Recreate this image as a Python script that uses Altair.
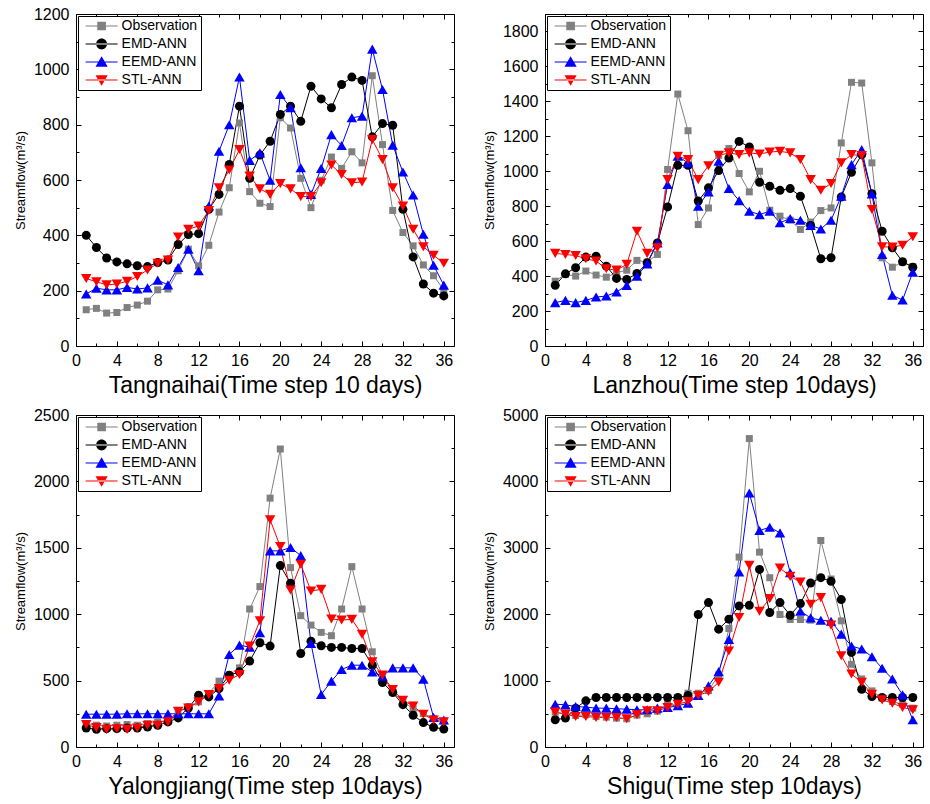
import altair as alt
import pandas as pd

steps = list(range(1, 37))
series_names = ["Observation", "EMD-ANN", "EEMD-ANN", "STL-ANN"]
series_colors = ["#808080", "#000000", "#0000ff", "#ff0000"]
series_shapes = ["square", "circle", "triangle-up", "triangle-down"]
series_sizes = [49, 81, 110, 110]
legend_paths = [
    "M-1,-0.035H1V0.035H-1ZM-0.27,-0.27H0.27V0.27H-0.27Z",
    "M-1,-0.035H1V0.035H-1ZM-0.34,0A0.34,0.34,0,1,0,0.34,0A0.34,0.34,0,1,0,-0.34,0Z",
    "M-1,-0.035H1V0.035H-1ZM0,-0.36L0.38,0.3H-0.38Z",
    "M-1,-0.035H1V0.035H-1ZM0,0.36L0.38,-0.3H-0.38Z",
]

# Tangnaihai
tangnaihai_obs = [131, 136, 119, 121, 139, 148, 162, 203, 206, 272, 350, 290, 364, 484, 572, 806, 558, 516,
                  504, 825, 788, 606, 500, 599, 683, 642, 702, 662, 977, 728, 490, 410, 362, 293, 254, 203]
tangnaihai_emd = [400, 356, 318, 304, 297, 290, 287, 302, 311, 367, 403, 406, 494, 548, 656, 867, 606, 690,
                  740, 837, 867, 812, 939, 893, 861, 945, 972, 960, 756, 804, 798, 494, 322, 224, 191, 181]
tangnaihai_eemd = [188, 209, 203, 203, 212, 206, 210, 238, 221, 284, 350, 272, 506, 704, 800, 972, 671, 698,
                   599, 909, 861, 644, 548, 642, 764, 725, 825, 831, 1073, 927, 726, 629, 546, 404, 292, 220]
tangnaihai_stl = [244, 232, 221, 224, 234, 251, 275, 299, 311, 394, 422, 434, 490, 572, 636, 710, 614, 568,
                  548, 587, 568, 540, 540, 590, 654, 620, 590, 593, 746, 674, 572, 506, 422, 359, 328, 299]

# Lanzhou
lanzhou_obs = [371, 410, 400, 429, 406, 394, 419, 434, 490, 480, 524, 1010, 1442, 1232, 695, 790, 1091, 1130,
               987, 882, 1000, 777, 743, 720, 667, 709, 775, 790, 1162, 1509, 1505, 1048, 505, 451, 480, 455]
lanzhou_emd = [347, 413, 448, 509, 514, 457, 387, 381, 415, 476, 590, 796, 1034, 1034, 830, 905, 1004, 1076,
               1171, 1139, 937, 914, 891, 901, 857, 690, 499, 505, 853, 994, 1095, 872, 657, 562, 482, 451]
lanzhou_eemd = [248, 261, 248, 261, 280, 286, 309, 347, 400, 470, 590, 924, 1086, 1048, 800, 882, 1057, 901,
                832, 771, 752, 771, 705, 730, 720, 690, 670, 720, 857, 1038, 1124, 870, 524, 290, 263, 423]
lanzhou_stl = [530, 524, 518, 499, 486, 442, 434, 467, 657, 530, 562, 952, 1086, 1067, 952, 1032, 1091, 1105,
               1095, 1105, 1099, 1110, 1114, 1105, 1067, 952, 891, 930, 1048, 1095, 1090, 781, 568, 566, 577, 625]

# Yalongjiang
yalongjiang_obs = [176, 164, 158, 164, 169, 164, 176, 189, 196, 270, 302, 340, 403, 496, 541, 596, 1039, 1208,
                   1874, 2244, 1351, 989, 918, 863, 838, 1039, 1358, 1039, 717, 541, 415, 340, 289, 252, 214, 195]
yalongjiang_emd = [143, 133, 138, 138, 143, 143, 151, 164, 189, 219, 294, 390, 377, 440, 541, 566, 647, 785,
                   760, 1366, 1233, 704, 797, 762, 750, 750, 742, 742, 616, 486, 410, 319, 239, 184, 148, 135]
yalongjiang_eemd = [247, 247, 247, 247, 250, 250, 250, 250, 250, 250, 250, 250, 250, 385, 697, 767, 752, 860,
                    1477, 1477, 1502, 1441, 780, 395, 496, 584, 616, 616, 566, 533, 596, 596, 596, 511, 223, 203]
yalongjiang_stl = [169, 146, 133, 138, 133, 143, 164, 164, 189, 269, 294, 340, 395, 440, 503, 546, 760, 951,
                   1711, 1509, 1182, 1376, 1175, 1187, 964, 956, 961, 848, 642, 541, 433, 352, 309, 247, 203, 190]

# Shigu
shigu_obs = [525, 495, 475, 485, 460, 450, 435, 425, 480, 500, 540, 660, 620, 810, 810, 850, 1085, 1785,
             2860, 4645, 2935, 2550, 1995, 1920, 1920, 1910, 3110, 2530, 1900, 1245, 1025, 845, 735, 685, 645, 585]
shigu_emd = [410, 435, 585, 695, 745, 745, 745, 745, 745, 745, 745, 745, 745, 775, 1995, 2175, 1775, 1925,
             2125, 2135, 2675, 2025, 2175, 1985, 2160, 2470, 2550, 2495, 2220, 1425, 870, 760, 745, 745, 745, 745]
shigu_eemd = [645, 635, 610, 600, 585, 585, 575, 570, 560, 560, 585, 595, 620, 660, 775, 920, 1135, 1620,
              2635, 3825, 3260, 3310, 3225, 2625, 2045, 1945, 1910, 1895, 1700, 1520, 1475, 1360, 1185, 1025, 785, 410]
shigu_stl = [525, 495, 460, 460, 445, 445, 445, 425, 485, 545, 545, 595, 645, 685, 775, 835, 975, 1445,
             1950, 2735, 2045, 2235, 2695, 2570, 2485, 2150, 2250, 1835, 1375, 1100, 975, 795, 710, 660, 595, 560]

panel_titles = ["Tangnaihai(Time step 10 days)", "Lanzhou(Time step 10days)",
                "Yalongjiang(Time step 10days)", "Shigu(Time step 10days)"]
panel_ymax = [1200, 1900, 2500, 5000]
panel_ymajor = [200, 200, 500, 1000]
panel_data = [
    [tangnaihai_obs, tangnaihai_emd, tangnaihai_eemd, tangnaihai_stl],
    [lanzhou_obs, lanzhou_emd, lanzhou_eemd, lanzhou_stl],
    [yalongjiang_obs, yalongjiang_emd, yalongjiang_eemd, yalongjiang_stl],
    [shigu_obs, shigu_emd, shigu_eemd, shigu_stl],
]
# trailing no-break spaces move the rotated title slightly down, as in the original
y_title = "Streamflow(m³/s)" + "\u00a0" * 7
x_domain = [0, 37]
x_tick_values = list(range(0, 37, 2))

FONT = "Liberation Sans"
W, H = 378, 332


def make_panel(title, ymax, major, series_values):
    rows = []
    for name, size, vals in zip(series_names, series_sizes, series_values):
        for s, v in zip(steps, vals):
            rows.append({"step": s, "flow": v, "series": name, "msize": size})
    df = pd.DataFrame(rows)
    y_tick_values = list(range(0, ymax + 1, major // 2))
    xscale = alt.Scale(domain=x_domain, nice=False, zero=False)
    yscale = alt.Scale(domain=[0, ymax], nice=False)
    x_tick = alt.ExprRef(expr="datum.value % 4 === 0 ? -5 : -3")
    y_tick = alt.ExprRef(expr=f"datum.value % {major} === 0 ? -5 : -3")

    base = alt.Chart(df)
    empty = base.transform_filter("false")

    def color_enc(legend):
        return alt.Color("series:N", scale=alt.Scale(domain=series_names, range=series_colors), legend=legend)

    lines = base.mark_line(strokeWidth=1).encode(
        x=alt.X("step:Q", scale=xscale, axis=alt.Axis(
            orient="bottom", values=x_tick_values, format="d",
            labelExpr="datum.value % 4 === 0 ? datum.label : ''",
            tickSize=x_tick, labelPadding=11, title=title, titleFontSize=23,
            titlePadding=4, grid=False, labelFlush=False, labelOverlap=False)),
        y=alt.Y("flow:Q", scale=yscale, axis=alt.Axis(
            orient="left", values=y_tick_values, format="d",
            labelExpr=f"datum.value % {major} === 0 ? datum.label : ''",
            tickSize=y_tick, labelPadding=12, title=y_title, titleFontSize=13,
            titlePadding=6, grid=False, labelFlush=False, labelOverlap=False)),
        color=color_enc(None),
    )

    points = base.mark_point(filled=True, opacity=1).encode(
        x=alt.X("step:Q", axis=None),
        y=alt.Y("flow:Q", axis=None),
        color=color_enc(None),
        shape=alt.Shape("series:N", scale=alt.Scale(domain=series_names, range=series_shapes), legend=None),
        size=alt.Size("msize:Q", scale=None, legend=None),
    )

    frame = empty.mark_point().encode(
        x=alt.X("step:Q", axis=alt.Axis(orient="top", values=x_tick_values, labels=False,
                                        tickSize=x_tick, title=None, grid=False)),
        y=alt.Y("flow:Q", axis=alt.Axis(orient="right", values=y_tick_values, labels=False,
                                        tickSize=y_tick, title=None, grid=False)),
    )

    leg_kw = dict(orient="top-left", offset=2, title=None, strokeColor="black",
                  fillColor="white", padding=3, symbolSize=1024, symbolStrokeWidth=0,
                  symbolOffset=4.6, labelOffset=4, labelFontSize=14, labelFont=FONT,
                  labelColor="black", clipHeight=14, rowPadding=4, labelLimit=0, cornerRadius=0)

    legend_layer = empty.mark_point(filled=True, opacity=1).encode(
        x=alt.X("step:Q", axis=None),
        y=alt.Y("flow:Q", axis=None),
        color=color_enc(alt.Legend(**leg_kw)),
        shape=alt.Shape("series:N", scale=alt.Scale(domain=series_names, range=legend_paths),
                        legend=alt.Legend(**leg_kw)),
    )

    return alt.layer(lines, points, frame, legend_layer).resolve_scale(
        color="independent", shape="independent"
    ).resolve_axis(x="independent", y="independent").properties(width=W, height=H)


panels = [make_panel(t, m, mj, d) for t, m, mj, d in zip(panel_titles, panel_ymax, panel_ymajor, panel_data)]

chart = alt.concat(
    *panels, columns=2, spacing={"row": 69, "column": 91}, bounds="flush"
).properties(
    padding={"left": 14, "top": 6, "right": 2, "bottom": 2},
    background="white",
).configure_view(
    stroke=None
).configure_axis(
    labelFont=FONT, titleFont=FONT, labelFontSize=16, labelColor="black", titleColor="black",
    domainColor="black", tickColor="black", domainWidth=1, tickWidth=1, titleFontWeight="normal"
).configure_legend(
    strokeColor="black", fillColor="white", strokeWidth=1, padding=3, labelFont=FONT
)

chart.save("out.html", embed_options={"renderer": "svg", "actions": False})
